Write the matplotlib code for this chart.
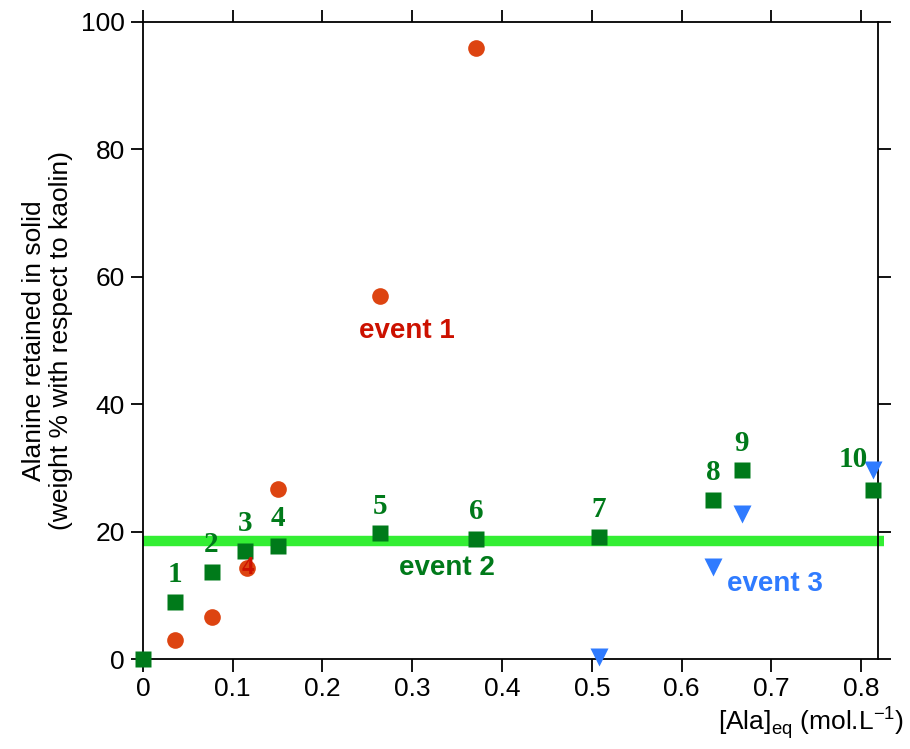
import matplotlib
matplotlib.use("Agg")
import matplotlib.pyplot as plt

plt.rcParams['font.family'] = ['Liberation Sans', 'DejaVu Sans']
plt.rcParams['mathtext.fontset'] = 'custom'
plt.rcParams['mathtext.rm'] = 'Liberation Sans'

# event 1 (red circles)
x_red = [0.036, 0.0765, 0.1155, 0.150, 0.264, 0.371]
y_red = [3.0, 6.6, 14.3, 26.7, 56.9, 95.8]
# event 2 (green squares), numbered 1..10 except the origin
x_green = [0.0, 0.036, 0.0765, 0.114, 0.150, 0.264, 0.371, 0.508, 0.635, 0.667, 0.813]
y_green = [0.0, 9.0, 13.7, 17.0, 17.8, 19.8, 18.9, 19.2, 25.0, 29.6, 26.6]
green_labels = ['', '1', '2', '3', '4', '5', '6', '7', '8', '9', '10']
# event 3 (blue triangles)
x_blue = [0.508, 0.635, 0.667, 0.813]
y_blue = [0.3, 14.5, 22.8, 29.7]
plateau = 18.5

red = '#dd4411'
green = '#007a1a'
blue = '#2f7bff'
lime = '#33ee33'

fig = plt.figure(figsize=(9.10, 7.49), dpi=100)
ax = fig.add_axes([0.157, 0.120, 0.808, 0.851])

ax.plot([0, 0.825], [plateau, plateau], color=lime, lw=7.5, solid_capstyle='butt', clip_on=False, zorder=1)
ax.plot(x_red, y_red, 'o', color=red, ms=12, mec='none', clip_on=False, zorder=3)
ax.plot(x_green, y_green, 's', color=green, ms=11.5, mec='none', clip_on=False, zorder=4)
ax.plot(x_blue, y_blue, 'v', color=blue, ms=12.5, mec='none', clip_on=False, zorder=5)

offsets = {'10': (-0.022, 2.6)}
for xg, yg, lab in zip(x_green, y_green, green_labels):
    if not lab:
        continue
    dx, dy = offsets.get(lab, (0.0, 2.1))
    ax.text(xg + dx, yg + dy, lab, color=green, fontsize=21, fontweight='bold',
            family='Liberation Serif', ha='center', va='bottom', zorder=6)
ax.text(x_red[2] + 0.002, y_red[2], '4', color='#cc1100', fontsize=18, fontweight='bold',
        family='Liberation Serif', ha='center', va='center', zorder=6)

ax.text(0.294, 51.5, 'event 1', color='#cc1100', fontsize=20, fontweight='bold', ha='center', va='center')
ax.text(0.339, 14.3, 'event 2', color=green, fontsize=20, fontweight='bold', ha='center', va='center')
ax.text(0.704, 11.8, 'event 3', color=blue, fontsize=20, fontweight='bold', ha='center', va='center')

ax.set_xlim(0, 0.819)
ax.set_ylim(0, 100)
ax.set_xticks([0, 0.1, 0.2, 0.3, 0.4, 0.5, 0.6, 0.7, 0.8])
ax.set_xticklabels(['0', '0.1', '0.2', '0.3', '0.4', '0.5', '0.6', '0.7', '0.8'])
ax.set_yticks([0, 20, 40, 60, 80, 100])
ax.tick_params(direction='out', length=9, width=1.3, labelsize=19, top=True, right=True,
               labeltop=False, labelright=False, pad=4)
for s in ax.spines.values():
    s.set_linewidth(1.3)

ax.set_ylabel('Alanine retained in solid\n(weight % with respect to kaolin)', fontsize=19,
              labelpad=6, linespacing=1.15)
fig.text(0.994, 0.035, '[Ala]$_{\\mathrm{eq}}$ (mol.L$^{\\mathrm{-1}}$)', fontsize=19, ha='right', va='center')

fig.savefig('out.png', dpi=100)
